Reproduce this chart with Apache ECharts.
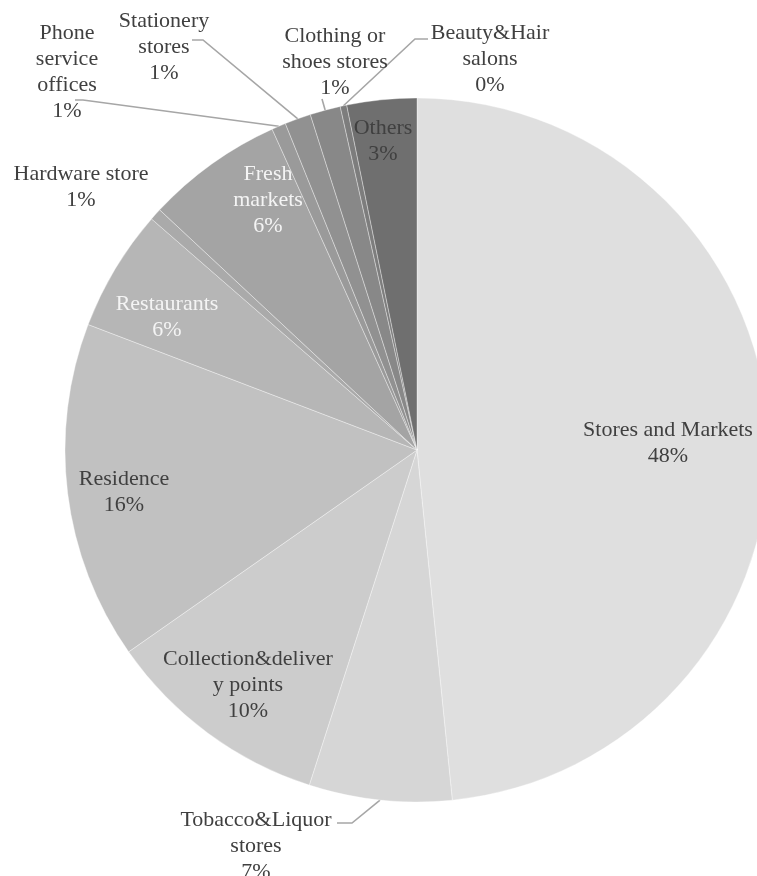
<!DOCTYPE html>
<html>
<head>
<meta charset="utf-8">
<script src="https://cdn.jsdelivr.net/npm/echarts@6/dist/echarts.min.js"></script>
<style>
html,body{margin:0;padding:0;background:#ffffff;}
#chart{width:757px;height:876px;}
</style>
</head>
<body>
<div id="chart"></div>
<script>
// ---- data ----
const categories = ['Stores and Markets','Tobacco&Liquor stores','Collection&delivery points','Residence','Restaurants','Hardware store','Fresh markets','Phone service offices','Stationery stores','Clothing or shoes stores','Beauty&Hair salons','Others'];
const labelTexts = ['Stores and Markets','Tobacco&Liquor\nstores','Collection&deliver\ny points','Residence','Restaurants','Hardware store','Fresh\nmarkets','Phone\nservice\noffices','Stationery\nstores','Clothing or\nshoes stores','Beauty&Hair\nsalons','Others'];
const values = [48.4, 6.55, 10.33, 15.52, 5.6, 0.55, 6.3, 0.65, 1.2, 1.4, 0.3, 3.2];

// ---- styles / layout ----
const colors = ['#dfdfdf','#d6d6d6','#cccccc','#c1c1c1','#b6b6b6','#aaaaaa','#a4a4a4','#9a9a9a','#919191','#888888','#7d7d7d','#6f6f6f'];
const textColors = ['#404040','#404040','#404040','#404040','#f4f4f4','#404040','#f4f4f4','#404040','#404040','#404040','#404040','#404040'];
// label block centres (pixels) and leader-line bend/end points for outside labels
const labelPlace = [
  {x:668, y:443},
  {x:256, y:846, line:[[352,823],[337,823]]},
  {x:248, y:685},
  {x:124, y:492},
  {x:167, y:317},
  {x:81,  y:187},
  {x:268, y:200},
  {x:67,  y:72,  line:[[83,100],[75,100]]},
  {x:164, y:47,  line:[[203,40],[192,40]]},
  {x:335, y:62,  line:[[322,99]]},
  {x:490, y:59,  line:[[415,39],[428,39]]},
  {x:383, y:141}
];

const chart = echarts.init(document.getElementById('chart'), null, {renderer:'canvas'});

const data = categories.map((name, i) => ({
  name: name,
  value: values[i],
  itemStyle: {color: colors[i]},
  label: {color: textColors[i]},
  labelLine: {show: !!labelPlace[i].line}
}));

chart.setOption({
  animation: false,
  backgroundColor: '#ffffff',
  series: [{
    type: 'pie',
    center: [417, 450],
    radius: [0, 352],
    startAngle: 90,
    clockwise: true,
    avoidLabelOverlap: false,
    minShowLabelAngle: 0,
    emphasis: {disabled: true},
    itemStyle: {borderColor: 'rgba(255,255,255,0.7)', borderWidth: 0.5},
    label: {
      show: true,
      position: 'outside',
      fontFamily: 'Liberation Serif',
      fontSize: 22,
      lineHeight: 26,
      formatter: function (p) {
        return labelTexts[p.dataIndex] + '\n' + Math.round(p.percent) + '%';
      }
    },
    labelLine: {
      show: true,
      length: 10,
      length2: 10,
      smooth: false,
      lineStyle: {color: '#a6a6a6', width: 1.6}
    },
    labelLayout: function (params) {
      const L = labelPlace[params.dataIndex];
      const out = {x: L.x, y: L.y, align: 'center', verticalAlign: 'middle'};
      if (L.line && params.labelLinePoints) {
        out.labelLinePoints = [params.labelLinePoints[0]].concat(L.line);
      }
      return out;
    },
    data: data
  }]
});
</script>
</body>
</html>
